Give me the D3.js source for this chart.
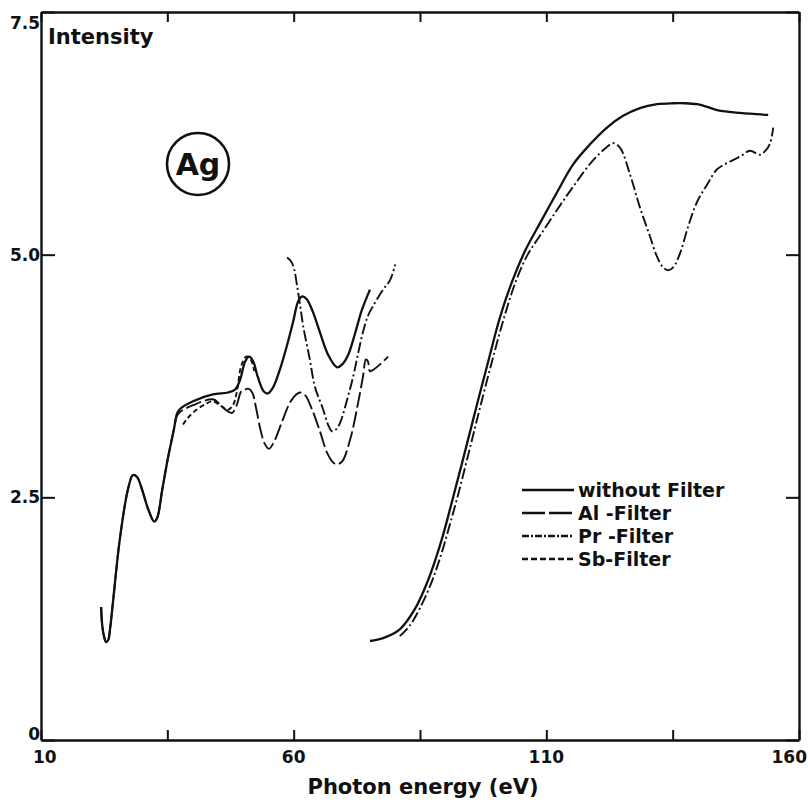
<!DOCTYPE html>
<html>
<head>
<meta charset="utf-8">
<script src="https://cdn.jsdelivr.net/npm/d3@7"></script>
<style>
  body { margin: 0; background: #fff; }
  text { font-family: "DejaVu Sans", sans-serif; font-weight: bold; fill: #111; }
</style>
</head>
<body>
<svg id="chart" width="808" height="803"></svg>
<script>
// Axis ticks and labels
const xTicks = [10, 35, 60, 85, 110, 135, 160];
const xLabels = [10, 60, 110, 160];
const yTicks = [0, 2.5, 5.0, 7.5];
const yLabels = ["0", "2.5", "5.0", "7.5"];

// Spectra: [photon energy (eV), intensity]
const noFilterLow = [
  [21.9,1.37],[22.1,1.19],[22.5,1.06],[22.9,1.01],[23.3,1.03],[23.7,1.16],[24.3,1.45],
  [25.6,2.07],[27.2,2.58],[28.2,2.73],[29.0,2.71],[30.0,2.58],[31.2,2.38],[32.4,2.25],
  [33.0,2.29],[34.0,2.58],[35.1,2.90],[36.3,3.20],[36.9,3.36],[37.5,3.41],[40.1,3.49],
  [44.0,3.56],[47.0,3.58],[48.4,3.61],[49.4,3.71],[50.4,3.90],[51.2,3.95],[52.0,3.90],
  [52.9,3.74],[54.1,3.59],[54.9,3.57],[55.9,3.63],[57.3,3.82],[58.7,4.07],[59.9,4.31],
  [60.9,4.52],[61.7,4.57],[62.6,4.54],[63.8,4.41],[65.2,4.20],[66.8,3.97],[68.6,3.84],
  [69.6,3.87],[70.8,3.97],[72.1,4.18],[73.5,4.43],[75.1,4.64]
];
const noFilterHigh = [
  [75.1,1.02],[77.7,1.05],[81.0,1.14],[84.0,1.35],[86.4,1.62],[88.0,1.85],[89.5,2.10],
  [91.3,2.45],[93.7,2.93],[96.1,3.42],[98.5,3.90],[100.8,4.35],[103.2,4.72],[105.8,5.04],
  [108.8,5.33],[112.1,5.64],[115.3,5.93],[118.7,6.14],[122.0,6.31],[125.2,6.43],[128.5,6.51],
  [131.9,6.55],[135.1,6.56],[137.5,6.56],[139.8,6.55],[142.0,6.52],[143.8,6.49],[148.3,6.46],
  [153.9,6.44]
];
const alFilter = [
  [21.9,1.37],[22.1,1.19],[22.5,1.06],[22.9,1.01],[23.3,1.03],[23.7,1.16],[24.3,1.45],
  [25.6,2.07],[27.2,2.58],[28.2,2.73],[29.0,2.71],[30.0,2.58],[31.2,2.38],[32.4,2.25],
  [33.0,2.29],[34.0,2.58],[35.1,2.90],[36.3,3.20],[36.9,3.34],[37.5,3.38],[40.1,3.45],
  [44.0,3.51],[45.4,3.46],[46.6,3.40],[47.8,3.37],[48.8,3.46],[49.6,3.59],[50.4,3.61],
  [51.0,3.62],[51.8,3.58],[52.6,3.41],[53.5,3.18],[54.3,3.05],[55.1,3.00],[56.1,3.07],
  [57.7,3.28],[59.3,3.48],[60.5,3.56],[61.3,3.58],[62.3,3.55],[63.6,3.41],[65.2,3.18],
  [66.6,2.96],[67.8,2.86],[68.6,2.84],[69.6,2.87],[71.2,3.10],[72.7,3.46],[73.7,3.74],
  [74.3,3.92],[74.7,3.90],[75.1,3.80],[75.9,3.82],[77.1,3.87],[78.7,3.95]
];
const prFilterLow = [
  [58.7,4.97],[59.5,4.93],[60.1,4.85],[60.7,4.67],[61.3,4.47],[61.9,4.26],[63.2,3.92],
  [64.2,3.64],[65.8,3.41],[66.8,3.25],[67.6,3.18],[68.4,3.20],[69.2,3.27],[70.6,3.51],
  [71.8,3.75],[72.7,3.97],[73.7,4.20],[74.7,4.37],[75.7,4.47],[77.7,4.64],[79.1,4.74],
  [80.1,4.90]
];
const prFilterHigh = [
  [81.0,1.07],[83.0,1.18],[85.0,1.36],[87.4,1.64],[89.3,1.93],[90.8,2.20],[92.3,2.48],
  [94.7,2.97],[97.1,3.47],[99.5,3.95],[101.8,4.38],[104.0,4.73],[106.3,5.00],[108.8,5.20],
  [112.1,5.46],[115.3,5.70],[119.2,5.97],[122.0,6.11],[123.2,6.15],[124.6,6.10],[126.6,5.82],
  [128.5,5.49],[130.5,5.19],[131.9,4.98],[133.1,4.87],[134.1,4.84],[135.1,4.87],[136.5,5.02],
  [138.0,5.28],[139.8,5.54],[141.8,5.72],[143.8,5.88],[146.0,5.95],[148.3,6.01],[150.3,6.07],
  [152.3,6.03],[153.5,6.08],[154.3,6.15],[154.9,6.31]
];
const sbFilter = [
  [38.1,3.25],[39.1,3.32],[40.7,3.40],[42.5,3.46],[44.0,3.49],[45.4,3.45],[46.9,3.40],
  [48.0,3.45],[48.8,3.60],[49.6,3.85],[50.6,3.95],[51.4,3.93],[52.2,3.80]
];

const seriesNames = ["without Filter", "Al -Filter", "Pr -Filter", "Sb-Filter"];
const dashes = [null, "16,4", "11,3,2,3", "5,3"];

const svg = d3.select("#chart");
const x = d3.scaleLinear().domain([10, 160]).range([41, 799]);
const y = d3.scaleLinear().domain([0, 7.5]).range([740, 12]);

// Frame with inward ticks on all four sides
const frame = svg.append("g");
frame.append("g").attr("transform", `translate(0,${y(0)})`)
  .call(d3.axisBottom(x).tickValues(xTicks).tickSize(-10).tickSizeOuter(0).tickFormat(""));
frame.append("g").attr("transform", `translate(0,${y(7.5)})`)
  .call(d3.axisTop(x).tickValues(xTicks).tickSize(-10).tickSizeOuter(0).tickFormat(""));
frame.append("g").attr("transform", `translate(${x(10)},0)`)
  .call(d3.axisLeft(y).tickValues(yTicks).tickSize(-14).tickSizeOuter(0).tickFormat(""));
frame.append("g").attr("transform", `translate(${x(160)},0)`)
  .call(d3.axisRight(y).tickValues(yTicks).tickSize(-13).tickSizeOuter(0).tickFormat(""));
frame.selectAll("path.domain").attr("stroke", "#111").attr("stroke-width", 2.4);
frame.selectAll(".tick line").attr("stroke", "#111").attr("stroke-width", 2);

// Tick labels
svg.append("g").selectAll("text").data(xLabels).join("text")
  .attr("x", d => x(d)).attr("y", 763)
  .attr("text-anchor", d => d === 10 ? "start" : (d === 160 ? "end" : "middle"))
  .attr("dx", d => d === 10 ? -8 : (d === 160 ? 8 : 0))
  .attr("font-size", 17).text(d => d);
svg.append("g").selectAll("text").data(yTicks).join("text")
  .attr("x", x(10) - 1)
  .attr("y", d => d === 7.5 ? y(d) + 17 : (d === 0 ? y(d) : y(d) + 6))
  .attr("text-anchor", "end").attr("font-size", 17)
  .text((d, i) => yLabels[i]);

// Axis titles
svg.append("text").attr("x", 48).attr("y", 44).attr("font-size", 21).text("Intensity");
svg.append("text").attr("x", 423).attr("y", 794).attr("text-anchor", "middle")
  .attr("font-size", 21).text("Photon energy (eV)");

// Element marker
svg.append("circle").attr("cx", 198).attr("cy", 164).attr("r", 31)
  .attr("fill", "none").attr("stroke", "#111").attr("stroke-width", 2.6);
svg.append("text").attr("x", 198).attr("y", 175).attr("text-anchor", "middle")
  .attr("font-size", 30).text("Ag");

// Curves
const line = d3.line().x(d => x(d[0])).y(d => y(d[1])).curve(d3.curveCatmullRom.alpha(0.5));
const curves = [
  { data: noFilterLow, s: 0 }, { data: noFilterHigh, s: 0 },
  { data: alFilter, s: 1 },
  { data: prFilterLow, s: 2 }, { data: prFilterHigh, s: 2 },
  { data: sbFilter, s: 3 }
];
svg.append("g").selectAll("path").data(curves).join("path")
  .attr("d", d => line(d.data))
  .attr("fill", "none").attr("stroke", "#111")
  .attr("stroke-width", d => d.s === 0 ? 2.3 : 1.9)
  .attr("stroke-linejoin", "round")
  .attr("stroke-dasharray", d => dashes[d.s]);

// Legend
const legendDash = [null, "23,4", "7,2,2,2", "6,3"];
const legend = svg.append("g").selectAll("g").data(seriesNames).join("g")
  .attr("transform", (d, i) => `translate(522,${490 + i * 23})`);
legend.append("line").attr("x1", 0).attr("x2", 52).attr("y1", 0).attr("y2", 0)
  .attr("stroke", "#111").attr("stroke-width", 2.3)
  .attr("stroke-dasharray", (d, i) => legendDash[i]);
legend.append("text").attr("x", 56).attr("y", 7).attr("font-size", 19).text(d => d);
</script>
</body>
</html>
